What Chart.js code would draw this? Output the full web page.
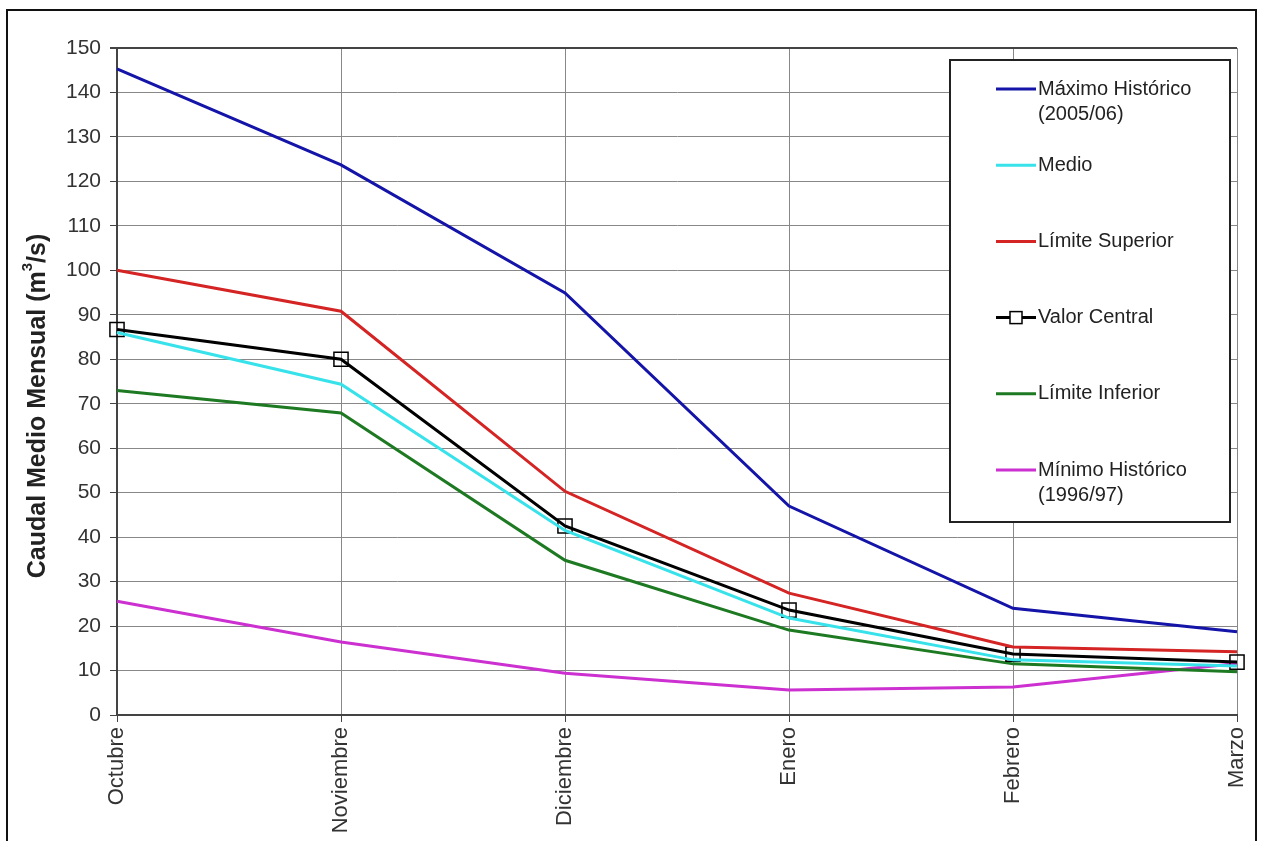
<!DOCTYPE html>
<html>
<head>
<meta charset="utf-8">
<script src="https://cdn.jsdelivr.net/npm/chart.js@4"></script>
<style>
  html, body { margin: 0; padding: 0; background: #fff; }
  #wrap { width: 1262px; height: 841px; }
</style>
</head>
<body>
<div id="wrap"><canvas id="caudal-chart" width="1262" height="841"></canvas></div>
<script>
// meses
const meses = ['Octubre', 'Noviembre', 'Diciembre', 'Enero', 'Febrero', 'Marzo'];

// caudales (m3/s)
const maximoHistorico = [145.3, 123.7, 94.9, 47, 24, 18.7];
const medio = [86, 74.4, 41.5, 21.8, 12.4, 11];
const limiteSuperior = [100, 90.8, 50.3, 27.4, 15.3, 14.2];
const valorCentral = [86.7, 80, 42.5, 23.6, 13.7, 11.9];
const limiteInferior = [73, 67.9, 34.8, 19.1, 11.5, 9.7];
const minimoHistorico = [25.6, 16.4, 9.4, 5.6, 6.3, 11.6];

const yTicks = [0, 10, 20, 30, 40, 50, 60, 70, 80, 90, 100, 110, 120, 130, 140, 150];

const fuente = '"Liberation Sans", Arial, sans-serif';

// marco exterior
const marco = {
  id: 'marco',
  beforeDraw(chart) {
    const ctx = chart.ctx;
    ctx.save();
    ctx.fillStyle = '#fff';
    ctx.fillRect(0, 0, chart.width, chart.height);
    ctx.strokeStyle = '#111';
    ctx.lineWidth = 2;
    ctx.strokeRect(7, 10, 1249, 845);
    ctx.restore();
  }
};

// titulo del eje Y con el superindice
const tituloY = {
  id: 'tituloY',
  afterDraw(chart) {
    const ctx = chart.ctx;
    const partes = ['Caudal Medio Mensual (m', '3', '/s)'];
    const fNormal = 'bold 25px ' + fuente;
    const fSup = 'bold 15px ' + fuente;
    ctx.save();
    ctx.font = fNormal;
    const w0 = ctx.measureText(partes[0]).width;
    const w2 = ctx.measureText(partes[2]).width;
    ctx.font = fSup;
    const w1 = ctx.measureText(partes[1]).width;
    const total = w0 + w1 + w2;
    ctx.translate(38, 406);
    ctx.rotate(-Math.PI / 2);
    ctx.fillStyle = '#222';
    ctx.textBaseline = 'middle';
    ctx.textAlign = 'left';
    let x = -total / 2;
    ctx.font = fNormal;
    ctx.fillText(partes[0], x, 0);
    x += w0;
    ctx.font = fSup;
    ctx.fillText(partes[1], x, -10);
    x += w1;
    ctx.font = fNormal;
    ctx.fillText(partes[2], x, 0);
    ctx.restore();
  }
};

// leyenda dentro del area del grafico
const leyenda = {
  id: 'leyenda',
  afterDraw(chart) {
    const ctx = chart.ctx;
    const x0 = 950, y0 = 60, w = 280, h = 462;
    ctx.save();
    ctx.fillStyle = '#fff';
    ctx.fillRect(x0, y0, w, h);
    ctx.strokeStyle = '#222';
    ctx.lineWidth = 2;
    ctx.strokeRect(x0, y0, w, h);
    ctx.font = '20px ' + fuente;
    ctx.textBaseline = 'middle';
    chart.data.datasets.forEach((ds, i) => {
      const y = 89 + i * 76.2;
      ctx.strokeStyle = ds.borderColor;
      ctx.lineWidth = 3;
      ctx.beginPath();
      ctx.moveTo(996, y);
      ctx.lineTo(1036, y);
      ctx.stroke();
      if (ds.pointRadius > 0) {
        ctx.lineWidth = 1.5;
        ctx.fillStyle = '#fff';
        ctx.fillRect(1010, y - 6, 12, 12);
        ctx.strokeRect(1010, y - 6, 12, 12);
      }
      ctx.fillStyle = '#222';
      const lineas = Array.isArray(ds.label) ? ds.label : [ds.label];
      lineas.forEach((t, k) => ctx.fillText(t, 1038, y + k * 25));
    });
    ctx.restore();
  }
};

function serie(label, data, color, conPuntos) {
  return {
    label: label,
    data: data,
    borderColor: color,
    backgroundColor: 'rgba(0,0,0,0)',
    borderWidth: 3,
    tension: 0,
    pointRadius: conPuntos ? 10 : 0,
    pointHoverRadius: conPuntos ? 10 : 0,
    pointStyle: 'rect',
    pointBorderColor: '#000',
    pointBorderWidth: 1.5,
    pointBackgroundColor: 'rgba(0,0,0,0)',
    fill: false
  };
}

const ctx = document.getElementById('caudal-chart').getContext('2d');
new Chart(ctx, {
  type: 'line',
  data: {
    labels: meses,
    datasets: [
      serie(['Máximo Histórico', '(2005/06)'], maximoHistorico, '#1414a8', false),
      serie('Medio', medio, '#38e2ea', false),
      serie('Límite Superior', limiteSuperior, '#d42424', false),
      serie('Valor Central', valorCentral, '#000000', true),
      serie('Límite Inferior', limiteInferior, '#1e7a22', false),
      serie(['Mínimo Histórico', '(1996/97)'], minimoHistorico, '#cc30d0', false)
    ]
  },
  options: {
    responsive: false,
    animation: false,
    layout: { padding: { left: 0, top: 48, right: 25, bottom: 0 } },
    plugins: {
      legend: { display: false },
      tooltip: { enabled: false }
    },
    scales: {
      x: {
        offset: false,
        afterFit(scale) {
          scale.height = 126;
          scale.paddingLeft = 0;
          scale.paddingRight = 0;
        },
        grid: { color: '#888', lineWidth: 1, tickLength: 7, tickColor: '#444' },
        border: { color: '#444', width: 2 },
        ticks: {
          autoSkip: false,
          maxRotation: 90,
          minRotation: 90,
          padding: 5,
          color: '#333',
          font: { family: fuente, size: 22 }
        }
      },
      y: {
        min: 0,
        max: 150,
        afterFit(scale) { scale.width = 117; },
        afterBuildTicks(scale) { scale.ticks = yTicks.map(v => ({ value: v })); },
        grid: {
          color: c => (c.tick && c.tick.value === 150 ? '#444' : '#888'),
          lineWidth: c => (c.tick && c.tick.value === 150 ? 2 : 1),
          tickLength: 7,
          tickColor: '#444'
        },
        border: { color: '#444', width: 2 },
        ticks: {
          color: '#333',
          padding: 9,
          font: { family: fuente, size: 21 }
        }
      }
    }
  },
  plugins: [marco, tituloY, leyenda]
});
</script>
</body>
</html>
